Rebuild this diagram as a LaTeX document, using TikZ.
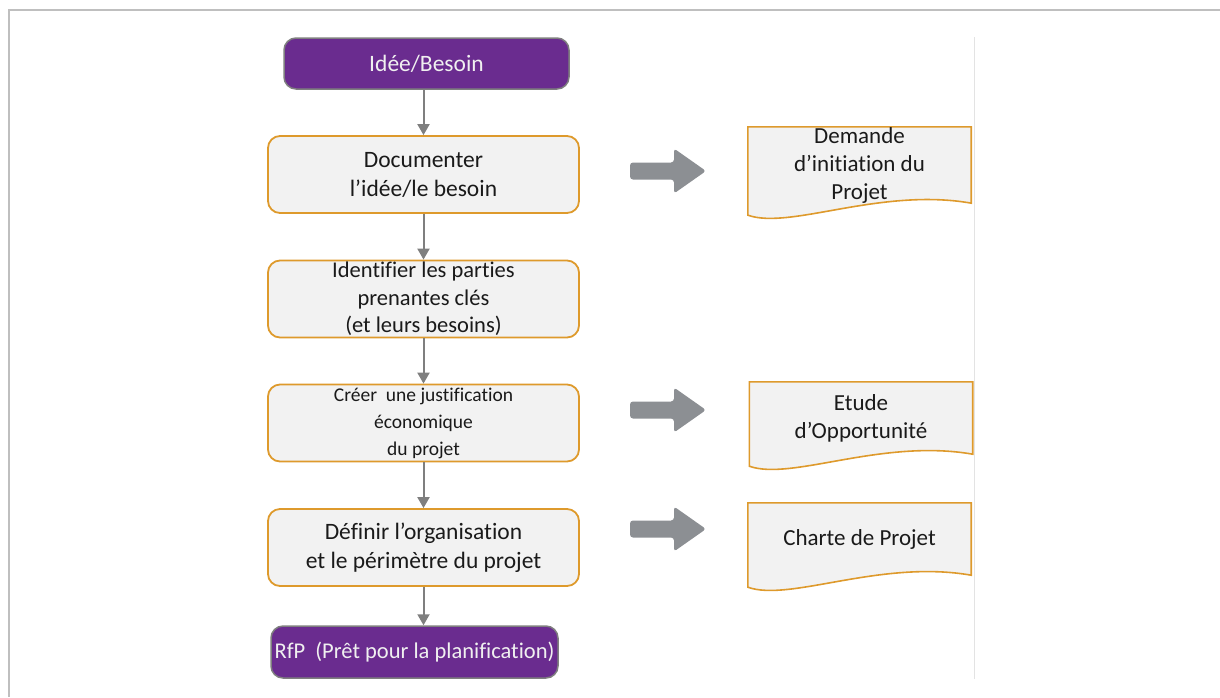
\documentclass[tikz,border=0pt]{standalone}
\usepackage{fontspec}
\setmainfont{Carlito}[Ligatures={NoCommon}]
\usetikzlibrary{arrows.meta,calc,backgrounds}
\definecolor{purpleC}{HTML}{6A2C8F}
\definecolor{orangeC}{HTML}{DE9A2C}
\definecolor{boxfill}{HTML}{F2F2F2}
\definecolor{flowgray}{HTML}{7F7F7F}
\definecolor{blockgray}{HTML}{8C8F93}
\definecolor{txt}{HTML}{1A1A1A}
\tikzset{
  procbox/.style={rectangle, rounded corners=12pt, draw=orangeC, line width=1.8pt, fill=boxfill,
    minimum width=311pt, minimum height=77pt, align=center, text=txt, inner sep=0pt,
    font=\fontsize{23.5}{29}\selectfont},
  termbox/.style={rectangle, rounded corners=12pt, draw=flowgray, line width=1.5pt, fill=purpleC,
    minimum height=51pt, align=center, text=white!94!black, inner sep=0pt,
    font=\fontsize{23.5}{29}\selectfont},
  docbox/.style={rectangle, minimum width=223pt, minimum height=72pt, align=center, text=txt,
    inner sep=0pt, font=\fontsize{23}{28}\selectfont},
  docline/.style={draw=orangeC, line width=1.6pt, fill=boxfill},
  flow/.style={draw=flowgray, line width=2pt, -{Triangle[width=12pt,length=11pt]}},
  blockarrow/.style={fill=blockgray, rounded corners=3pt},
}
\newcommand{\blockarr}[1]{%
  \fill[blockarrow] (630,#1-8.5) -- (674,#1-8.5) -- (674,#1-22.5) -- (706,#1) -- (674,#1+22.5) -- (674,#1+8.5) -- (630,#1+8.5) -- cycle;}
\newcommand{\docshape}[1]{%
  \path[docline] (#1.north west) -- (#1.north east) -- (#1.south east)
    .. controls ($(#1.south east)+(-91,-16)$) and ($(#1.south west)+(42,27)$) .. ($(#1.south west)+(0,12)$) -- cycle;}
\begin{document}
\begin{tikzpicture}[x=1pt,y=-1pt]
\useasboundingbox (0,0) rectangle (1220,697);
% frame
\draw[draw=black!25, line width=2pt] (9,697) -- (9,10) -- (1220,10);
\draw[draw=black!11, line width=1pt] (974,37) -- (974,679);

% flow nodes
\node[termbox, minimum width=285pt] (idee) at (426.5,63.5) {Idée/Besoin};
\node[procbox] (doc) at (423.5,174.5) {Documenter\\l’idée/le besoin};
\node[procbox, font=\fontsize{22.5}{27.5}\selectfont] (ident) at (423.5,299) {Identifier les parties\\prenantes clés\\(et leurs besoins)};
\node[procbox, font=\fontsize{19.5}{27}\selectfont] (creer) at (423.5,423) {Créer\ \ une justification\\économique\\du projet};
\node[procbox] (defin) at (423.5,547.5) {Définir l’organisation\\et le périmètre du projet};
\node[termbox, minimum width=287pt, minimum height=52pt, font=\fontsize{22.5}{28}\selectfont] (rfp) at (414.5,652) {RfP\ \ (Prêt pour la planification)};

% connectors
\draw[flow] (idee.south -| doc.north) -- (doc.north);
\draw[flow] (doc.south) -- (ident.north);
\draw[flow] (ident.south) -- (creer.north);
\draw[flow] (creer.south) -- (defin.north);
\draw[flow] (defin.south) -- (defin.south |- rfp.north);

% documents
\node[docbox] (d1) at (859.5,165) {Demande\\d’initiation du\\Projet};
\node[docbox] (d2) at (861,418) {Etude\\d’Opportunité};
\node[docbox] (d3) at (859.5,539) {Charte de Projet};
\begin{scope}[on background layer]
  \docshape{d1}
  \docshape{d2}
  \docshape{d3}
\end{scope}

% block arrows
\blockarr{171}
\blockarr{410}
\blockarr{529}
\end{tikzpicture}
\end{document}
